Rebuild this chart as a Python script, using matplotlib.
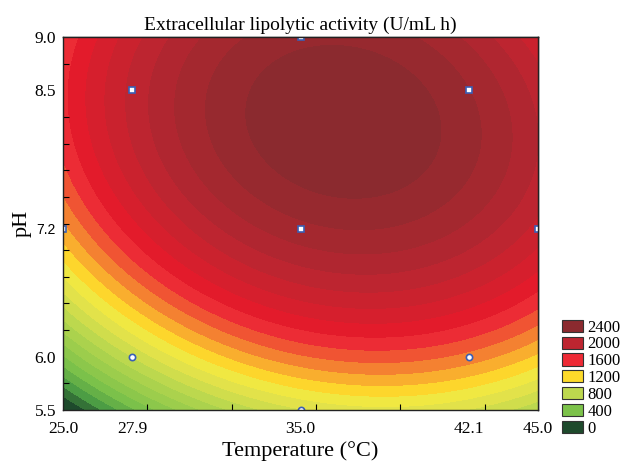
import numpy as np
import matplotlib.pyplot as plt
from matplotlib.colors import LinearSegmentedColormap
from matplotlib.patches import Patch

# design points (central composite) and activity (U/mL h)
temp = [27.9, 27.9, 42.1, 42.1, 25.0, 45.0, 35.0, 35.0, 35.0]
ph = [6.0, 8.5, 6.0, 8.5, 7.2, 7.2, 5.5, 9.0, 7.2]
activity = [895, 2025, 1455, 2300, 1360, 1960, 985, 2365, 2265]
point_shape = ['o', 's', 'o', 's', 's', 's', 'o', 's', 's']

temp_ticks = [25.0, 27.9, 35.0, 42.1, 45.0]
ph_ticks = [5.5, 6.0, 7.2, 8.5, 9.0]

legend_levels = [2400, 2000, 1600, 1200, 800, 400, 0]
legend_colors = ['#8b2a2f', '#be2530', '#ee2a35', '#fdda2a', '#bdd84e', '#7cc24a', '#1e4a2c']

# colour nodes of the contour scale
node_vals = [0, 200, 400, 800, 1000, 1100, 1200, 1600, 1700, 2000, 2400]
node_cols = ['#1e4a2c', '#4d9e44', '#7cc24a', '#bcd84e', '#e2e24a', '#f0e842',
             '#fdd82c', '#ec2c35', '#e31b2b', '#be2530', '#8b2a2f']

serif = 'Liberation Serif'

# quadratic response surface fitted to the design points
T = np.array(temp)
P = np.array(ph)
X = np.column_stack([np.ones_like(T), T, P, T**2, P**2, T*P])
coef, *_ = np.linalg.lstsq(X, np.array(activity, dtype=float), rcond=None)

tg, pg = np.meshgrid(np.linspace(25, 45, 400), np.linspace(5.5, 9.0, 400))
Z = coef[0] + coef[1]*tg + coef[2]*pg + coef[3]*tg**2 + coef[4]*pg**2 + coef[5]*tg*pg

cmap = LinearSegmentedColormap.from_list(
    'act', [(v / node_vals[-1], c) for v, c in zip(node_vals, node_cols)])
levels = np.arange(-500, 3200, 100)
band_cols = [cmap(np.clip(l, 0, 2400) / 2400) for l in levels[:-1]]

fig = plt.figure(figsize=(6.21, 4.63), dpi=100)
ax = fig.add_axes([63/621, 53/463, 475/621, 373/463])

cs = ax.contourf(tg, pg, Z, levels=levels, colors=band_cols)
cs.set_edgecolor('face')
cs.set_linewidth(0.5)

for t, p, m in zip(temp, ph, point_shape):
    ax.plot(t, p, marker=m, markersize=4.5, markerfacecolor='white',
            markeredgecolor='#3a5fb5', markeredgewidth=1.2, linestyle='none')

ax.set_xlim(25, 45)
ax.set_ylim(5.5, 9.0)

ax.set_xticks(temp_ticks)
ax.set_xticklabels([f'{v:.1f}' for v in temp_ticks], family=serif, fontsize=12.5)
ax.set_yticks(ph_ticks)
ax.set_yticklabels([f'{v:.1f}' for v in ph_ticks], family=serif, fontsize=12.5)
for lab in ax.get_yticklabels():
    if lab.get_text() == '7.2':
        lab.set_family('Liberation Sans')
        lab.set_fontsize(10)
ax.tick_params(axis='both', which='major', length=0)
ax.tick_params(axis='x', which='major', pad=8)
ax.tick_params(axis='y', which='major', pad=5)

# small inward ticks on every side
ax.set_xticks(np.arange(28.55, 44.9, 3.55), minor=True)
ax.set_yticks(np.arange(5.75, 8.9, 0.25), minor=True)
ax.tick_params(which='minor', direction='in', length=4, width=0.8)
top = ax.secondary_xaxis('top')
top.set_xticks(np.arange(27.5, 44.9, 2.5))
top.tick_params(direction='in', length=4, width=0.8, labeltop=False)
right = ax.secondary_yaxis('right')
right.set_yticks(np.arange(5.5 + 3.5/8, 8.95, 3.5/8))
right.tick_params(direction='in', length=4, width=0.8, labelright=False)

for s in list(ax.spines.values()) + [top.spines['top'], right.spines['right']]:
    s.set_linewidth(1.0)
    s.set_color('#222222')

ax.set_title('Extracellular lipolytic activity (U/mL h)', family=serif,
             fontsize=14, pad=5)
ax.set_xlabel('Temperature (°C)', family=serif, fontsize=16, labelpad=3)
ax.set_ylabel('pH', family=serif, fontsize=16, labelpad=2)

handles = [Patch(facecolor=c, edgecolor='#333333', linewidth=0.8) for c in legend_colors]
fig.legend(handles, [str(v) for v in legend_levels], loc='upper left',
           bbox_to_anchor=(550/621, 1 - 308/463), frameon=False,
           prop={'family': serif, 'size': 12}, handlelength=1.3,
           handleheight=0.75, labelspacing=0.05, handletextpad=0.25,
           borderpad=0.2)

fig.savefig('out.png', dpi=100)
